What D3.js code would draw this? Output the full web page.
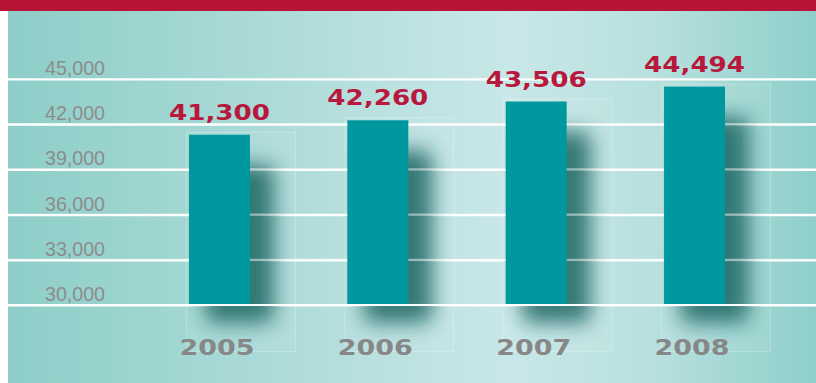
<!DOCTYPE html>
<html>
<head>
<meta charset="utf-8">
<script src="https://cdn.jsdelivr.net/npm/d3@7/dist/d3.min.js"></script>
<style>
  html, body { margin: 0; padding: 0; background: #ffffff; }
  svg { display: block; }
</style>
</head>
<body>
<svg id="chart" width="816" height="383"></svg>
<script>
// Annual totals, 2005–2008
const years = ["2005", "2006", "2007", "2008"];
const values = [41300, 42260, 43506, 44494];
const yTicks = [30000, 33000, 36000, 39000, 42000, 45000];

const W = 816, H = 383;
const svg = d3.select("#chart");
const defs = svg.append("defs");

// Panel background: horizontal teal gradient, lighter toward the middle
const bg = defs.append("linearGradient").attr("id", "bgGrad")
  .attr("x1", "0").attr("x2", "1").attr("y1", "0").attr("y2", "0");
[[0, "#8ecec8"], [0.25, "#a5d8d4"], [0.62, "#c9e7e8"], [0.8, "#b7e0de"], [1, "#8fcfca"]]
  .forEach(([o, c]) => bg.append("stop").attr("offset", o).attr("stop-color", c));

// Soft drop shadow
defs.append("filter").attr("id", "soft")
  .attr("x", "-80%").attr("y", "-40%").attr("width", "260%").attr("height", "180%")
  .append("feGaussianBlur").attr("stdDeviation", 10);

svg.append("rect").attr("x", 0).attr("y", 0).attr("width", W).attr("height", 11)
  .attr("fill", "#b71538");
svg.append("rect").attr("x", 8).attr("y", 11).attr("width", W - 8).attr("height", H - 11)
  .attr("fill", "url(#bgGrad)");

const y = d3.scaleLinear().domain([30000, 45000]).range([305, 79]);
const x = d3.scaleBand().domain(years).range([189, 725])
  .paddingInner(0.615).paddingOuter(0);
const bw = x.bandwidth();

// Gridlines + tick labels from the y axis
const yAxis = d3.axisLeft(y).tickValues(yTicks).tickSize(-(W - 8))
  .tickFormat(d3.format(","));
const gy = svg.append("g").attr("transform", "translate(8,0)").call(yAxis);
gy.select(".domain").remove();
gy.selectAll(".tick line").attr("stroke", "#ffffff").attr("stroke-width", 2.2);
gy.selectAll(".tick text")
  .attr("x", 37).attr("dy", "-4.5").attr("text-anchor", "start")
  .attr("fill", "#8b8d8d")
  .attr("font-family", "'Liberation Sans', Arial, sans-serif")
  .attr("font-size", 20.5)
  .attr("textLength", 60).attr("lengthAdjust", "spacingAndGlyphs");

const data = years.map((yr, i) => ({ year: yr, value: values[i] }));

// Frame around each bar's shadow area
const frames = svg.append("g");
data.forEach((d, i) => {
  const bx = x(d.year), top = y(d.value);
  defs.append("clipPath").attr("id", "clip" + i)
    .append("rect").attr("x", bx - 3).attr("y", top - 3)
    .attr("width", bw + 49).attr("height", 352 - (top - 3));
  frames.append("rect").attr("x", bx - 3 + 0.5).attr("y", top - 3 + 0.5)
    .attr("width", bw + 48).attr("height", 351 - (top - 3))
    .attr("fill", "rgba(255,255,255,0.05)")
    .attr("stroke", "rgba(255,255,255,0.25)").attr("stroke-width", 1);
});

// Shadows
const shadows = svg.append("g");
data.forEach((d, i) => {
  const bx = x(d.year), top = y(d.value);
  shadows.append("g").attr("clip-path", `url(#clip${i})`)
    .append("rect")
    .attr("x", bx + 16).attr("y", top + 30)
    .attr("width", bw + 8).attr("height", y(30000) - top - 12)
    .attr("rx", 10)
    .attr("fill", "#1c6664").attr("opacity", 0.85)
    .attr("filter", "url(#soft)");
});

// Gridlines showing faintly through the shadows
svg.append("g").selectAll("line").data(yTicks).join("line")
  .attr("x1", 8).attr("x2", W).attr("y1", d => y(d)).attr("y2", d => y(d))
  .attr("stroke", "rgba(255,255,255,0.45)").attr("stroke-width", 2.2);

// Bars
svg.append("g").selectAll("rect").data(data).join("rect")
  .attr("x", d => x(d.year)).attr("y", d => y(d.value))
  .attr("width", bw).attr("height", d => y(30000) - y(d.value) - 1)
  .attr("fill", "#00989f");

// Base line over the bar bottoms
svg.append("line").attr("x1", 8).attr("x2", W)
  .attr("y1", y(30000)).attr("y2", y(30000))
  .attr("stroke", "#ffffff").attr("stroke-width", 2.2);

// Value labels
svg.append("g").selectAll("text").data(data).join("text")
  .attr("x", d => x(d.year) + bw / 2).attr("y", d => y(d.value) - 15)
  .attr("text-anchor", "middle")
  .attr("fill", "#b8183b")
  .attr("font-family", "'DejaVu Sans', sans-serif").attr("font-weight", "bold")
  .attr("font-size", 21.5)
  .attr("textLength", 101).attr("lengthAdjust", "spacingAndGlyphs")
  .text(d => d3.format(",")(d.value));

// Year labels along the bottom
const xAxis = d3.axisBottom(x).tickSize(0);
const gx = svg.append("g").attr("transform", "translate(0,355)").call(xAxis);
gx.select(".domain").remove();
gx.selectAll(".tick text")
  .attr("y", 0).attr("dy", 0).attr("x", -2.5)
  .attr("fill", "#878787")
  .attr("font-family", "'DejaVu Sans', sans-serif").attr("font-weight", "bold")
  .attr("font-size", 22)
  .attr("textLength", 75).attr("lengthAdjust", "spacingAndGlyphs");
</script>
</body>
</html>
